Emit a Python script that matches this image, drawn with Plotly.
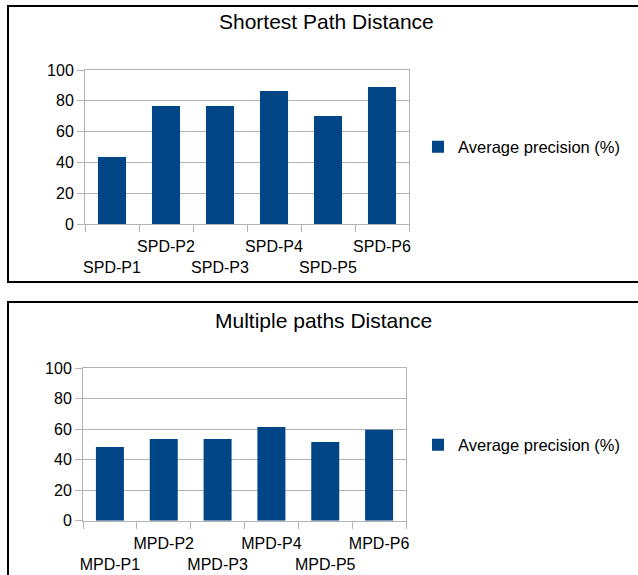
import plotly.graph_objects as go

W, H = 638, 575

spd_categories = ["SPD-P1", "SPD-P2", "SPD-P3", "SPD-P4", "SPD-P5", "SPD-P6"]
spd_values = [43.5, 76.6, 76.6, 86.4, 70.1, 89.0]

mpd_categories = ["MPD-P1", "MPD-P2", "MPD-P3", "MPD-P4", "MPD-P5", "MPD-P6"]
mpd_values = [48.4, 53.6, 53.6, 61.5, 51.7, 59.6]

series_name = "Average precision (%)"
title_top = "Shortest Path Distance"
title_bottom = "Multiple paths Distance"
y_ticks = [0, 20, 40, 60, 80, 100]

BAR = "#004586"
GRID = "#b3b3b3"
FONT = "Liberation Sans, Arial, sans-serif"


def stagger(labels):
    return [("<br>" + t) if i % 2 == 0 else t for i, t in enumerate(labels)]


def px_x(v):
    return v / W


def px_y(v):
    return 1 - v / H


fig = go.Figure()
fig.add_trace(go.Bar(x=spd_categories, y=spd_values, name=series_name,
                     marker=dict(color=BAR, line=dict(width=0)),
                     xaxis="x", yaxis="y", legend="legend"))
fig.add_trace(go.Bar(x=mpd_categories, y=mpd_values, name=series_name,
                     marker=dict(color=BAR, line=dict(width=0)),
                     xaxis="x2", yaxis="y2", legend="legend2"))

xcommon = dict(type="category", showgrid=False, showline=True, linecolor=GRID,
               linewidth=1, mirror=True, ticks="outside", ticklen=7,
               tickcolor=GRID, tickson="boundaries", tickangle=0,
               tickfont=dict(family=FONT, size=16, color="#000000"),
               ticklabelstandoff=8, fixedrange=True, automargin=False)
ycommon = dict(range=[0, 100], tickvals=y_ticks, showgrid=True, gridcolor=GRID,
               gridwidth=1, showline=True, linecolor=GRID, linewidth=1,
               mirror=True, ticks="outside", ticklen=7, tickcolor=GRID,
               tickfont=dict(family=FONT, size=16, color="#000000"),
               zeroline=False, fixedrange=True, automargin=False)

fig.update_layout(
    width=W, height=H,
    margin=dict(l=0, r=0, t=0, b=0, autoexpand=False),
    paper_bgcolor="white", plot_bgcolor="white",
    bargap=0.48,
    font=dict(family=FONT, color="#000000"),
    xaxis=dict(xcommon, domain=[px_x(85), px_x(409)], anchor="y",
               tickvals=spd_categories, ticktext=stagger(spd_categories)),
    yaxis=dict(ycommon, domain=[px_y(224), px_y(70)], anchor="x"),
    xaxis2=dict(xcommon, domain=[px_x(83), px_x(406)], anchor="y2",
                tickvals=mpd_categories, ticktext=stagger(mpd_categories)),
    yaxis2=dict(ycommon, domain=[px_y(520.7), px_y(368.3)], anchor="x2"),
    legend=dict(x=px_x(418), y=px_y(147), xanchor="left", yanchor="middle",
                font=dict(family=FONT, size=16.5, color="#000000"),
                bgcolor="rgba(0,0,0,0)"),
    legend2=dict(x=px_x(418), y=px_y(445), xanchor="left", yanchor="middle",
                 font=dict(family=FONT, size=16.5, color="#000000"),
                 bgcolor="rgba(0,0,0,0)"),
    showlegend=True,
    annotations=[
        dict(text=title_top, x=px_x(326), y=px_y(22), xref="paper", yref="paper",
             xanchor="center", yanchor="middle", showarrow=False,
             font=dict(family=FONT, size=21, color="#000000")),
        dict(text=title_bottom, x=px_x(323), y=px_y(320), xref="paper", yref="paper",
             xanchor="center", yanchor="middle", showarrow=False,
             font=dict(family=FONT, size=21, color="#000000")),
    ],
    shapes=[
        dict(type="rect", xref="paper", yref="paper",
             x0=px_x(8), x1=px_x(660), y0=px_y(282), y1=px_y(6),
             line=dict(color="#000000", width=2), fillcolor="rgba(0,0,0,0)"),
        dict(type="rect", xref="paper", yref="paper",
             x0=px_x(8), x1=px_x(660), y0=px_y(600), y1=px_y(302),
             line=dict(color="#000000", width=2), fillcolor="rgba(0,0,0,0)"),
    ],
)

fig.write_html(
    "out.html",
    config={"responsive": False, "displayModeBar": False},
    post_script="document.body.style.margin='0';document.body.style.overflow='hidden';",
)
